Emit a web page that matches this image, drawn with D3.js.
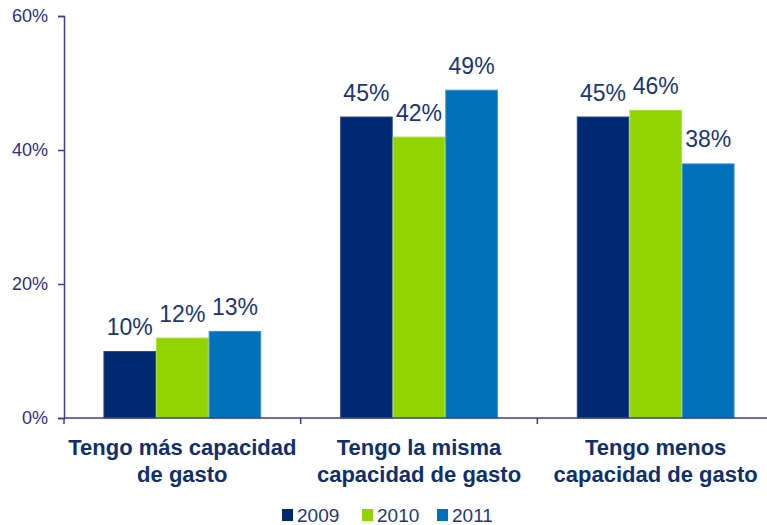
<!DOCTYPE html>
<html>
<head>
<meta charset="utf-8">
<script src="https://cdn.jsdelivr.net/npm/d3@7/dist/d3.min.js"></script>
<style>
  html, body { margin: 0; padding: 0; background: #fff; }
  svg { display: block; font-family: "Liberation Sans", Arial, sans-serif; }
</style>
</head>
<body>
<svg id="chart" width="767" height="525"></svg>
<script>
// Categories (each label split into its display lines)
const categories = [
  ["Tengo más capacidad", "de gasto"],
  ["Tengo la misma", "capacidad de gasto"],
  ["Tengo menos", "capacidad de gasto"]
];
const years = ["2009", "2010", "2011"];
const values2009 = [10, 45, 45];
const values2010 = [12, 42, 46];
const values2011 = [13, 49, 38];
const yTicks = [0, 20, 40, 60];
const colors = ["#002972", "#92d400", "#0072bc"];
const strokes = ["#2a4a8a", "#a8e03a", "#3c90d0"];

const series = [values2009, values2010, values2011];

const svg = d3.select("#chart");
const plotLeft = 64, plotRight = 774, plotTop = 16, plotBottom = 418;

const x0 = d3.scaleBand()
  .domain(d3.range(categories.length))
  .range([plotLeft, plotRight])
  .paddingInner(0)
  .paddingOuter(0);

const x1 = d3.scaleBand()
  .domain(d3.range(years.length))
  .range([0, x0.bandwidth()])
  .paddingOuter(0.75)
  .paddingInner(0);

const y = d3.scaleLinear().domain([0, 60]).range([plotBottom, plotTop]);

// Bars
const groups = svg.append("g").selectAll("g")
  .data(categories.map((c, i) => i))
  .join("g")
  .attr("transform", i => `translate(${x0(i)},0)`);

groups.selectAll("rect")
  .data(i => series.map((s, k) => ({ k, v: s[i] })))
  .join("rect")
  .attr("x", d => x1(d.k) + 0.5)
  .attr("y", d => y(d.v) + 0.5)
  .attr("width", x1.bandwidth() - 1)
  .attr("height", d => plotBottom - y(d.v) - 0.5)
  .attr("fill", d => colors[d.k])
  .attr("stroke", d => strokes[d.k])
  .attr("stroke-width", 1);

// Value labels
groups.selectAll("text")
  .data(i => series.map((s, k) => ({ k, v: s[i] })))
  .join("text")
  .attr("x", d => x1(d.k) + x1.bandwidth() / 2)
  .attr("y", d => y(d.v) - 16)
  .attr("text-anchor", "middle")
  .attr("font-size", 23)
  .attr("fill", "#1b3577")
  .text(d => d.v + "%");

// Y axis
const yAxis = d3.axisLeft(y)
  .tickValues(yTicks)
  .tickFormat(d => d + "%")
  .tickSize(6)
  .tickPadding(10);

const ya = svg.append("g")
  .attr("transform", `translate(${plotLeft},0)`)
  .call(yAxis);
ya.select(".domain").attr("stroke", "#3e3e8e").attr("stroke-width", 1.5);
ya.selectAll(".tick line").attr("stroke", "#3e3e8e").attr("stroke-width", 1.5);
ya.selectAll(".tick text")
  .attr("font-size", 18)
  .attr("font-family", "'Liberation Sans', Arial, sans-serif")
  .attr("fill", "#2e2e82");

// X axis baseline with category separators
const xa = svg.append("g");
xa.append("line")
  .attr("x1", plotLeft).attr("x2", plotRight)
  .attr("y1", plotBottom).attr("y2", plotBottom)
  .attr("stroke", "#3e3e8e").attr("stroke-width", 1.5);
xa.selectAll("line.sep")
  .data(d3.range(categories.length + 1))
  .join("line")
  .attr("class", "sep")
  .attr("x1", i => i < categories.length ? x0(i) : plotRight)
  .attr("x2", i => i < categories.length ? x0(i) : plotRight)
  .attr("y1", plotBottom).attr("y2", plotBottom + 6)
  .attr("stroke", "#3e3e8e").attr("stroke-width", 1.5);

// Category labels
const catText = xa.selectAll("text.cat")
  .data(categories)
  .join("text")
  .attr("class", "cat")
  .attr("text-anchor", "middle")
  .attr("font-size", 22)
  .attr("font-weight", "bold")
  .attr("fill", "#0f2f6e")
  .attr("x", (d, i) => x0(i) + x0.bandwidth() / 2)
  .attr("y", 455);
catText.selectAll("tspan")
  .data(d => d)
  .join("tspan")
  .attr("x", function () { return d3.select(this.parentNode).attr("x"); })
  .attr("dy", (d, j) => j === 0 ? 0 : 27)
  .text(d => d);

// Legend
const legendX = [282, 362, 437];
const legend = svg.append("g").selectAll("g")
  .data(years)
  .join("g")
  .attr("transform", (d, i) => `translate(${legendX[i]},509)`);
legend.append("rect")
  .attr("width", 11).attr("height", 12)
  .attr("fill", (d, i) => colors[i]);
legend.append("text")
  .attr("x", 15).attr("y", 12.5)
  .attr("font-size", 19)
  .attr("fill", "#1f3779")
  .text(d => d);
</script>
</body>
</html>
